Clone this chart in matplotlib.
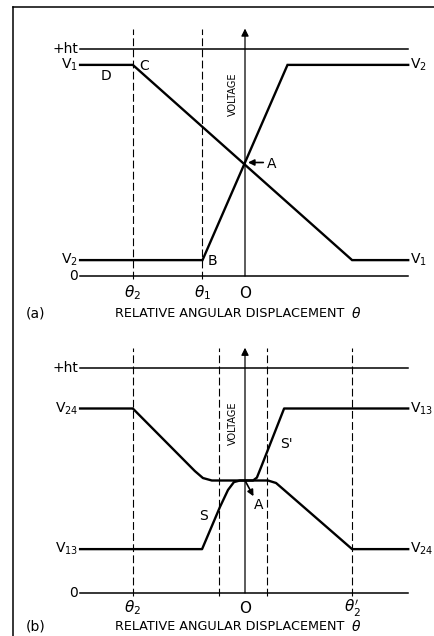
import matplotlib
matplotlib.use("Agg")
import matplotlib.pyplot as plt
from matplotlib.lines import Line2D

plt.rcParams['font.family'] = 'DejaVu Sans'
plt.rcParams['mathtext.fontset'] = 'dejavusans'

# common levels (volts on a 0..10 scale, +ht = 10)
HT = 10.0
X_LEFT, X_RIGHT = -3.88, 3.84       # extent of the horizontal traces
Y_TOP = 10.9                        # top of the dashed guides / voltage axis

# ---- panel (a): single-pair response ----
a_theta_marks = [-2.64, -1.0]       # theta2, theta1
a_theta_labels = [r'$\theta_2$', r'$\theta_1$']
a_v1, a_v2 = 9.3, 0.7
a_rise_x = [-3.88, -1.0, 1.0, 3.84]
a_rise_y = [0.7, 0.7, 9.3, 9.3]
a_fall_x = [-3.88, -2.64, 2.52, 3.84]
a_fall_y = [9.3, 9.3, 0.7, 0.7]
a_cross = (0.0, 4.95)

# ---- panel (b): two-pair response ----
b_theta_marks = [-2.64, -0.61, 0.52, 2.52]
b_theta_labels = [r'$\theta_2$', '', '', r"$\theta^{\prime}_{2}$"]
b_hi, b_lo, b_mid = 8.2, 1.95, 5.0
b_v24_x = [-3.88, -2.64, -1.18, -0.99, -0.78, 0.54, 0.73, 0.92, 2.52, 3.84]
b_v24_y = [8.2, 8.2, 5.42, 5.11, 5.0, 5.0, 4.89, 4.58, 1.95, 1.95]
b_v13_x = [-3.88, -1.01, -0.59, -0.4, -0.26, -0.12, 0.19, 0.28, 0.38, 0.92, 3.84]
b_v13_y = [1.95, 1.95, 3.82, 4.58, 4.93, 5.0, 5.0, 5.13, 5.6, 8.2, 8.2]
b_cross = (0.0, 5.0)

fig = plt.figure(figsize=(4.35, 6.36), dpi=100)

# axes cover half the sheet each; limits chosen so 1 unit = 42.5 px across
ax_a = fig.add_axes([0, 0.5, 1, 0.5])
ax_b = fig.add_axes([0, 0.0, 1, 0.5])
ax_a.set_xlim(-245 / 42.5, 190 / 42.5)
ax_b.set_xlim(-245 / 42.5, 190 / 42.5)
ax_a.set_ylim(-(318 - 276) / 22.7, 276 / 22.7)
ax_b.set_ylim(-(636 - 593) / 22.5, (593 - 318) / 22.5)
for ax in (ax_a, ax_b):
    ax.axis('off')

lw_curve = 1.7
lw_rail = 1.1
fs = 10


def draw_frame(ax, marks, labels, tag, y_theta, y_caption, y_volt):
    # +ht and zero rails
    ax.plot([X_LEFT, X_RIGHT], [HT, HT], color='black', lw=lw_rail)
    ax.plot([X_LEFT, X_RIGHT], [0, 0], color='black', lw=lw_rail)
    # dashed angle guides
    for m, lab in zip(marks, labels):
        ax.plot([m, m], [-0.15, Y_TOP], color='black', lw=0.8,
                dashes=(7, 3))
        if lab:
            ax.text(m, y_theta, lab, ha='center', va='center', fontsize=11)
    # voltage axis with arrow
    ax.annotate('', xy=(0, Y_TOP), xytext=(0, 0),
                arrowprops=dict(arrowstyle='-|>', color='black', lw=0.9,
                                mutation_scale=11, shrinkA=0, shrinkB=0))
    ax.text(0, y_theta, 'O', ha='center', va='center', fontsize=11)
    ax.text(-0.28, y_volt, 'VOLTAGE', rotation=90, ha='center', va='center',
            fontsize=7)
    ax.text(X_LEFT - 0.05, HT, '+ht', ha='right', va='center', fontsize=fs)
    ax.text(X_LEFT - 0.05, 0, '0', ha='right', va='center', fontsize=fs)
    ax.text(-4.92, y_caption, tag, ha='center', va='center', fontsize=10)
    ax.text(-3.05, y_caption, 'RELATIVE ANGULAR DISPLACEMENT', ha='left',
            va='center', fontsize=9.2)
    ax.text(2.5, y_caption - 0.02, r'$\theta$', ha='left', va='center',
            fontsize=10)


# panel (a)
draw_frame(ax_a, a_theta_marks, a_theta_labels, '(a)', -0.75, -1.63, 8.0)
ax_a.plot(a_rise_x, a_rise_y, color='black', lw=lw_curve,
          solid_joinstyle='miter')
ax_a.plot(a_fall_x, a_fall_y, color='black', lw=lw_curve,
          solid_joinstyle='miter')
ax_a.text(X_LEFT - 0.05, a_v1, r'V$_1$', ha='right', va='center', fontsize=fs)
ax_a.text(X_LEFT - 0.05, a_v2, r'V$_2$', ha='right', va='center', fontsize=fs)
ax_a.text(X_RIGHT + 0.05, a_v1, r'V$_2$', ha='left', va='center', fontsize=fs)
ax_a.text(X_RIGHT + 0.05, a_v2, r'V$_1$', ha='left', va='center', fontsize=fs)
ax_a.text(-3.27, 8.8, 'D', ha='center', va='center', fontsize=fs)
ax_a.text(-2.48, 9.25, 'C', ha='left', va='center', fontsize=fs)
ax_a.text(-0.88, 0.65, 'B', ha='left', va='center', fontsize=fs)
ax_a.annotate('', xy=(a_cross[0] + 0.07, a_cross[1] + 0.05),
              xytext=(a_cross[0] + 0.43, a_cross[1] + 0.05),
              arrowprops=dict(arrowstyle='-|>', color='black', lw=1.2,
                              mutation_scale=9, shrinkA=0, shrinkB=0))
ax_a.text(0.52, a_cross[1], 'A', ha='left', va='center', fontsize=fs)

# panel (b)
draw_frame(ax_b, b_theta_marks, b_theta_labels, '(b)', -0.67, -1.47, 7.55)
ax_b.plot(b_v24_x, b_v24_y, color='black', lw=lw_curve)
ax_b.plot(b_v13_x, b_v13_y, color='black', lw=lw_curve)
ax_b.text(X_LEFT - 0.05, b_hi, r'V$_{24}$', ha='right', va='center', fontsize=fs)
ax_b.text(X_LEFT - 0.05, b_lo, r'V$_{13}$', ha='right', va='center', fontsize=fs)
ax_b.text(X_RIGHT + 0.05, b_hi, r'V$_{13}$', ha='left', va='center', fontsize=fs)
ax_b.text(X_RIGHT + 0.05, b_lo, r'V$_{24}$', ha='left', va='center', fontsize=fs)
ax_b.text(-0.98, 3.4, 'S', ha='center', va='center', fontsize=fs)
ax_b.text(0.98, 6.6, "S'", ha='center', va='center', fontsize=fs)
ax_b.annotate('', xy=(0.2, 4.3), xytext=(0.0, b_cross[1]),
              arrowprops=dict(arrowstyle='-|>', color='black', lw=1.2,
                              mutation_scale=9, shrinkA=0, shrinkB=0))
ax_b.text(0.33, 3.9, 'A', ha='center', va='center', fontsize=fs)

# border on the left and top of the sheet
fig.add_artist(Line2D([13 / 435, 13 / 435], [0, 1 - 7 / 636],
                      transform=fig.transFigure, color='black', lw=1.1))
fig.add_artist(Line2D([13 / 435, 1], [1 - 7 / 636, 1 - 7 / 636],
                      transform=fig.transFigure, color='black', lw=1.1))

fig.savefig('out.png', dpi=100, facecolor='white')
